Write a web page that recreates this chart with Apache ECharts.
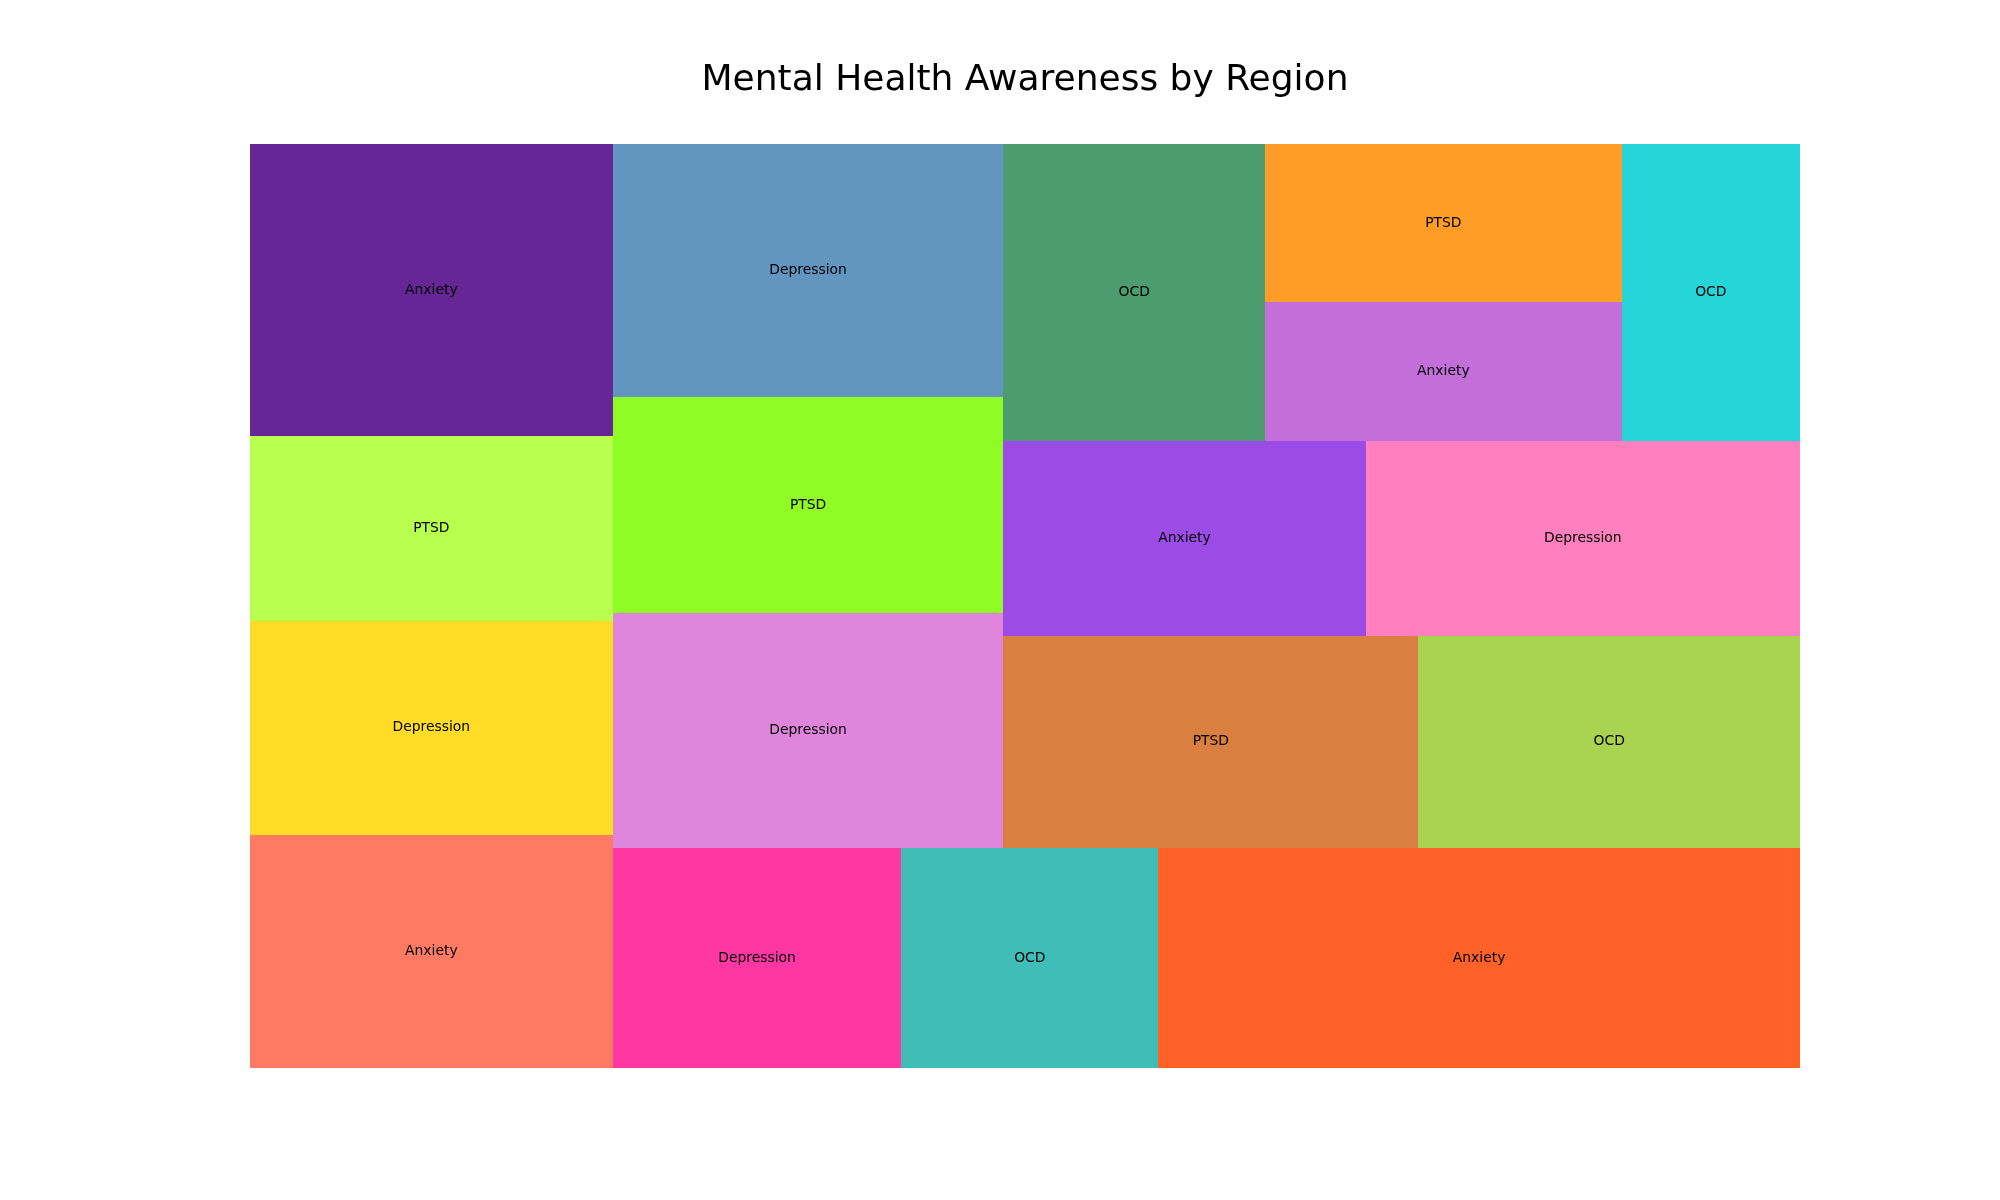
<!DOCTYPE html>
<html>
<head>
<meta charset="utf-8">
<script src="https://cdn.jsdelivr.net/npm/echarts@6/dist/echarts.min.js"></script>
<style>html,body{margin:0;padding:0;background:#fff;}#chart{width:2000px;height:1200px;}</style>
</head>
<body>
<div id="chart"></div>
<script>
// ---- data (in plotting order) ----
const labels = ['Anxiety','Depression','PTSD','Anxiety','Depression','OCD','Anxiety','Depression','PTSD','Depression','PTSD','OCD','Anxiety','Depression','OCD','Anxiety','PTSD','OCD'];
const values = [60, 55, 47.5, 75, 45, 40, 100, 65, 60, 70, 62.5, 57.5, 50, 60, 55, 35, 40, 37.5];
const colors = ['tomato','gold','greenyellow','indigo','deeppink','lightseagreen','orangered','orchid','lawngreen','steelblue','chocolate','yellowgreen','blueviolet','hotpink','seagreen','mediumorchid','darkorange','darkturquoise'];
const titleText = 'Mental Health Awareness by Region';

// ---- squarify layout (same algorithm as python squarify) in a 100x100 space ----
function sum(a){return a.reduce((s,v)=>s+v,0);}
function normalizeSizes(sizes,dx,dy){const t=sum(sizes);return sizes.map(s=>s*dx*dy/t);}
function layoutRow(sizes,x,y,dx,dy){const w=sum(sizes)/dy;const r=[];for(const s of sizes){r.push({x:x,y:y,dx:w,dy:s/w});y+=s/w;}return r;}
function layoutCol(sizes,x,y,dx,dy){const h=sum(sizes)/dx;const r=[];for(const s of sizes){r.push({x:x,y:y,dx:s/h,dy:h});x+=s/h;}return r;}
function layout(sizes,x,y,dx,dy){return dx>=dy?layoutRow(sizes,x,y,dx,dy):layoutCol(sizes,x,y,dx,dy);}
function leftover(sizes,x,y,dx,dy){
  if(dx>=dy){const w=sum(sizes)/dy;return [x+w,y,dx-w,dy];}
  const h=sum(sizes)/dx;return [x,y+h,dx,dy-h];
}
function worstRatio(sizes,x,y,dx,dy){return Math.max.apply(null,layout(sizes,x,y,dx,dy).map(r=>Math.max(r.dx/r.dy,r.dy/r.dx)));}
function squarify(sizes,x,y,dx,dy){
  if(!sizes.length)return [];
  if(sizes.length===1)return layout(sizes,x,y,dx,dy);
  let i=1;
  while(i<sizes.length && worstRatio(sizes.slice(0,i),x,y,dx,dy)>=worstRatio(sizes.slice(0,i+1),x,y,dx,dy)) i++;
  const cur=sizes.slice(0,i), rem=sizes.slice(i);
  const lo=leftover(cur,x,y,dx,dy);
  return layout(cur,x,y,dx,dy).concat(squarify(rem,lo[0],lo[1],lo[2],lo[3]));
}
const rects = squarify(normalizeSizes(values,100,100),0,0,100,100);
const seriesData = rects.map((r,i)=>({value:[r.x,r.y,r.dx,r.dy,values[i]], name:labels[i]}));

const chart = echarts.init(document.getElementById('chart'), null, {renderer:'canvas'});
chart.setOption({
  animation:false,
  backgroundColor:'#ffffff',
  title:{
    text:titleText,
    left:1025, top:62.5, textAlign:'center', padding:0,
    textStyle:{fontFamily:'DejaVu Sans', fontSize:36, fontWeight:'normal', color:'#000'}
  },
  grid:{left:250, right:200, top:144, bottom:132, containLabel:false},
  xAxis:{type:'value', min:0, max:100, show:false},
  yAxis:{type:'value', min:0, max:100, show:false},
  series:[{
    type:'custom',
    coordinateSystem:'cartesian2d',
    data:seriesData,
    renderItem:function(params, api){
      const x=api.value(0), y=api.value(1), dx=api.value(2), dy=api.value(3);
      const a=api.coord([x, y+dy]);
      const b=api.coord([x+dx, y]);
      const x0=Math.round(a[0]), y0=Math.round(a[1]), x1=Math.round(b[0]), y1=Math.round(b[1]);
      const idx=params.dataIndex;
      return {
        type:'group',
        children:[
          {type:'rect', shape:{x:x0, y:y0, width:x1-x0, height:y1-y0},
           style:{fill:colors[idx], opacity:0.85, stroke:null}},
          {type:'text', style:{text:labels[idx], x:(a[0]+b[0])/2, y:(a[1]+b[1])/2,
            align:'center', verticalAlign:'middle', fill:'#000', fontSize:13.9, fontFamily:'DejaVu Sans'}}
        ]
      };
    }
  }]
});
</script>
</body>
</html>
